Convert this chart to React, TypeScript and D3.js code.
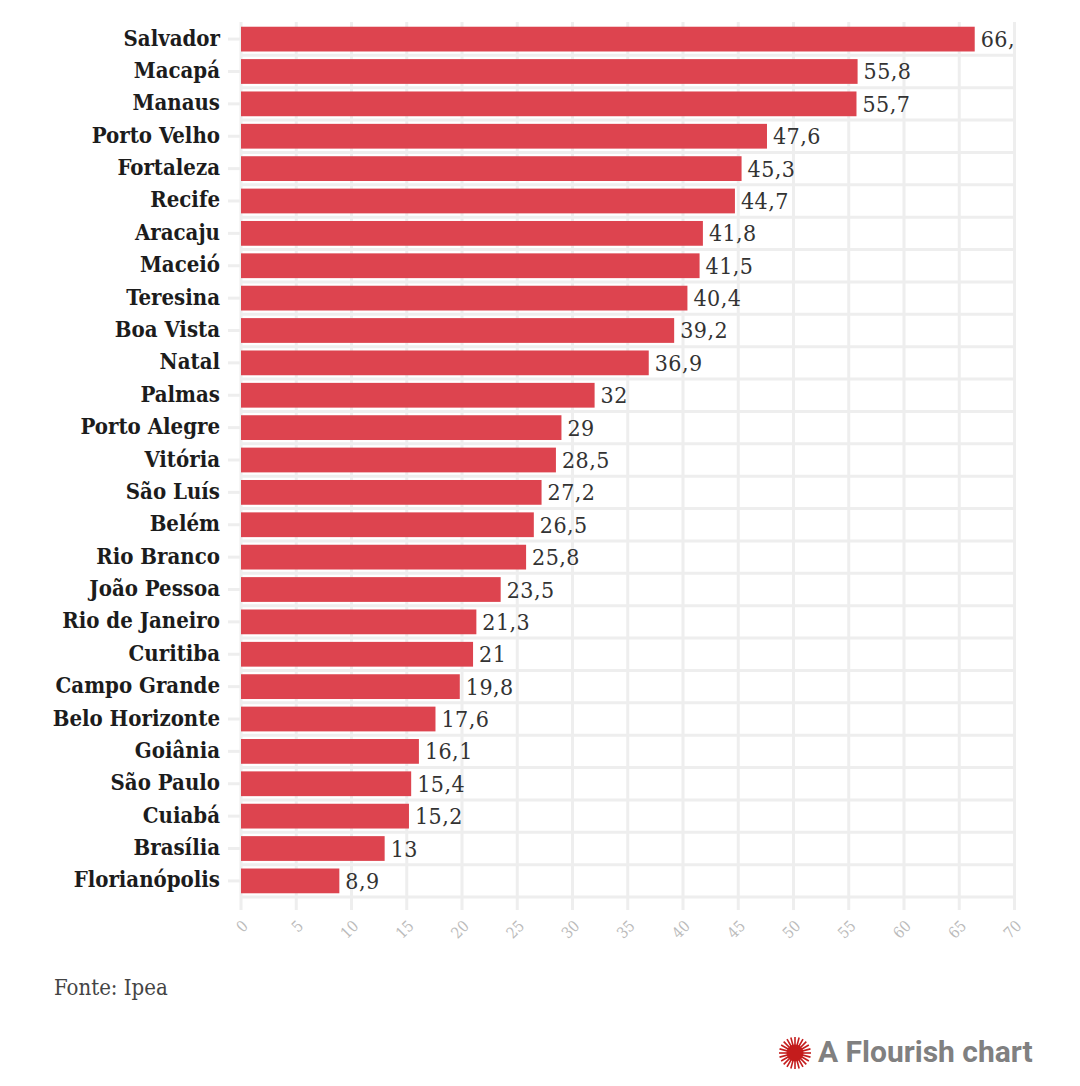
import React from "react";
import * as d3 from "d3";

const cities = ["Salvador","Macapá","Manaus","Porto Velho","Fortaleza","Recife","Aracaju","Maceió","Teresina","Boa Vista","Natal","Palmas","Porto Alegre","Vitória","São Luís","Belém","Rio Branco","João Pessoa","Rio de Janeiro","Curitiba","Campo Grande","Belo Horizonte","Goiânia","São Paulo","Cuiabá","Brasília","Florianópolis"];
const rates = [66.4,55.8,55.7,47.6,45.3,44.7,41.8,41.5,40.4,39.2,36.9,32,29,28.5,27.2,26.5,25.8,23.5,21.3,21,19.8,17.6,16.1,15.4,15.2,13,8.9];
const xTicks = d3.range(0, 75, 5);
const sourceNote = "Fonte: Ipea";
const creditText = "A Flourish chart";

const FONT = "'DejaVu Serif Condensed','DejaVu Serif',serif";
const fmt = (v: number) => String(v).replace(".", ",");

export default function App() {
  const x = d3.scaleLinear().domain([0, 70]).range([241, 1014.5]);
  const y = d3.scaleBand().domain(cities).range([23, 897]).paddingInner(0.235).paddingOuter(0.115);
  const bw = y.bandwidth();
  const step = y.step();
  const gapYs = cities.map((c) => (y(c) as number) + bw + (step - bw) / 2);
  const spokes = d3.range(0, 24).map((i) => (i * Math.PI * 2) / 24);
  return (
    <svg width={1080} height={1086} style={{ position: "absolute", left: 0, top: 0, background: "#fff" }}>
      <defs>
        <clipPath id="plotclip"><rect x={0} y={0} width={1014} height={1086} /></clipPath>
      </defs>
      {gapYs.map((g, i) => (
        <line key={i} x1={241} x2={1015} y1={g} y2={g} stroke="#eeeeee" strokeWidth={3} />
      ))}
      {xTicks.map((t) => (
        <line key={t} x1={x(t)} x2={x(t)} y1={22} y2={910} stroke="#eeeeee" strokeWidth={3} />
      ))}
      {cities.map((c, i) => {
        const cy = (y(c) as number) + bw / 2;
        return (
          <g key={c}>
            <line x1={228} x2={241} y1={cy} y2={cy} stroke="#eeeeee" strokeWidth={3} />
            <rect x={x(0)} y={y(c)} width={x(rates[i]) - x(0)} height={bw} fill="#dd444f" />
            <text x={220} y={cy + 6.5} textAnchor="end" fontFamily={FONT} fontWeight={700} fontSize={22} fill="#1c1c1c">{c}</text>
            <g clipPath="url(#plotclip)">
              <text x={x(rates[i]) + 6} y={cy + 8} fontFamily={FONT} fontSize={23} letterSpacing={0.45} fill="#333333">{fmt(rates[i])}</text>
            </g>
          </g>
        );
      })}
      {xTicks.map((t) => (
        <text key={t} transform={`translate(${x(t) + 8},${927}) rotate(-45)`} textAnchor="end" fontFamily={FONT} fontSize={15.5} fill="#bbbbbb">{t}</text>
      ))}
      <text x={54} y={995} fontFamily={FONT} fontSize={22} fill="#444444">{sourceNote}</text>
      <g transform="translate(795,1053)">
        {spokes.map((a, i) => (
          <line key={i} x1={0} y1={0} x2={Math.cos(a) * 16} y2={Math.sin(a) * 16} stroke="#c41c1c" strokeWidth={1.6} />
        ))}
        <circle r={8.5} fill="#c41c1c" />
      </g>
      <text x={818} y={1062} fontFamily="Roboto" fontWeight={700} fontSize={30} fill="#808080">{creditText}</text>
    </svg>
  );
}
